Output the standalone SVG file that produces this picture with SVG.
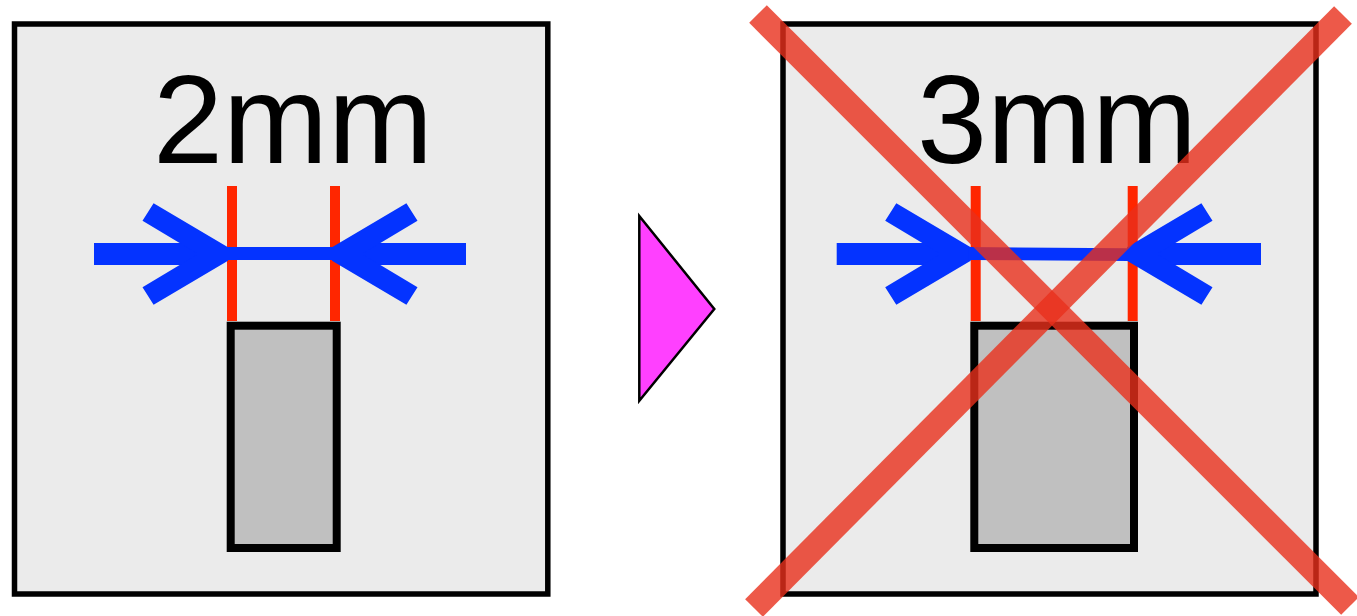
<svg xmlns="http://www.w3.org/2000/svg" xmlns:xlink="http://www.w3.org/1999/xlink" width="1357" height="616" viewBox="0 0 1357 616">
  <style>
    .panel { fill: #ebebeb; stroke: #000000; stroke-width: 5.5; }
    .part { fill: #c0c0c0; stroke: #000000; stroke-width: 8; }
    .edge { stroke: #ff2600; stroke-width: 10; fill: none; }
    .blue { fill: #0433ff; }
    .label { font-family: "Liberation Sans", Arial, Helvetica, sans-serif; font-size: 126px; fill: #000000; text-anchor: middle; }
    .cross { stroke: #e8301c; stroke-opacity: 0.8; stroke-width: 25; fill: none; }
    .next { fill: #ff40ff; stroke: #000000; stroke-width: 2.5; stroke-linejoin: miter; }
  </style>
  <defs>
    <g id="harrow" class="blue">
      <rect x="94" y="243" width="106" height="22"/>
      <polygon points="153.6,203.3 228,247.3 228,260.7 153.6,304.7 142.5,287.3 198,254 142.5,220.7"/>
    </g>
  </defs>

  <g id="panel-2mm">
    <rect class="panel" x="14.5" y="24" width="533.3" height="570"/>
    <text class="label" x="293" y="163">2mm</text>
    <line class="edge" x1="232" y1="186" x2="232" y2="321"/>
    <line class="edge" x1="335" y1="186" x2="335" y2="321"/>
    <g id="measure-2mm">
      <use xlink:href="#harrow" href="#harrow"/>
      <use xlink:href="#harrow" href="#harrow" transform="translate(560,0) scale(-1,1)"/>
      <rect class="blue" x="226" y="247" width="108" height="13"/>
    </g>
    <rect class="part" x="230.7" y="325.7" width="106" height="222.3"/>
  </g>

  <g id="connectors">
    <polygon id="next-arrow" class="next" points="639.3,216 714.3,309 639.3,400.7"/>
  </g>

  <g id="panel-3mm">
    <rect class="panel" x="783" y="24" width="533" height="570"/>
    <text class="label" x="1057" y="163">3mm</text>
    <line class="edge" x1="975.7" y1="186" x2="975.7" y2="321"/>
    <line class="edge" x1="1132.7" y1="186" x2="1132.7" y2="321"/>
    <g id="measure-3mm">
      <use xlink:href="#harrow" href="#harrow" transform="translate(742.7,0)"/>
      <use xlink:href="#harrow" href="#harrow" transform="translate(1355,0) scale(-1,1)"/>
      <polygon class="blue" points="968.7,247 1129,248.3 1129,261 968.7,260"/>
    </g>
    <rect class="part" x="974.3" y="325.7" width="159.7" height="222.3"/>
  </g>

  <g id="reject-cross">
    <line class="cross" x1="758" y1="14" x2="1350" y2="606"/>
    <line class="cross" x1="1343" y1="15" x2="754" y2="608"/>
  </g>
</svg>
